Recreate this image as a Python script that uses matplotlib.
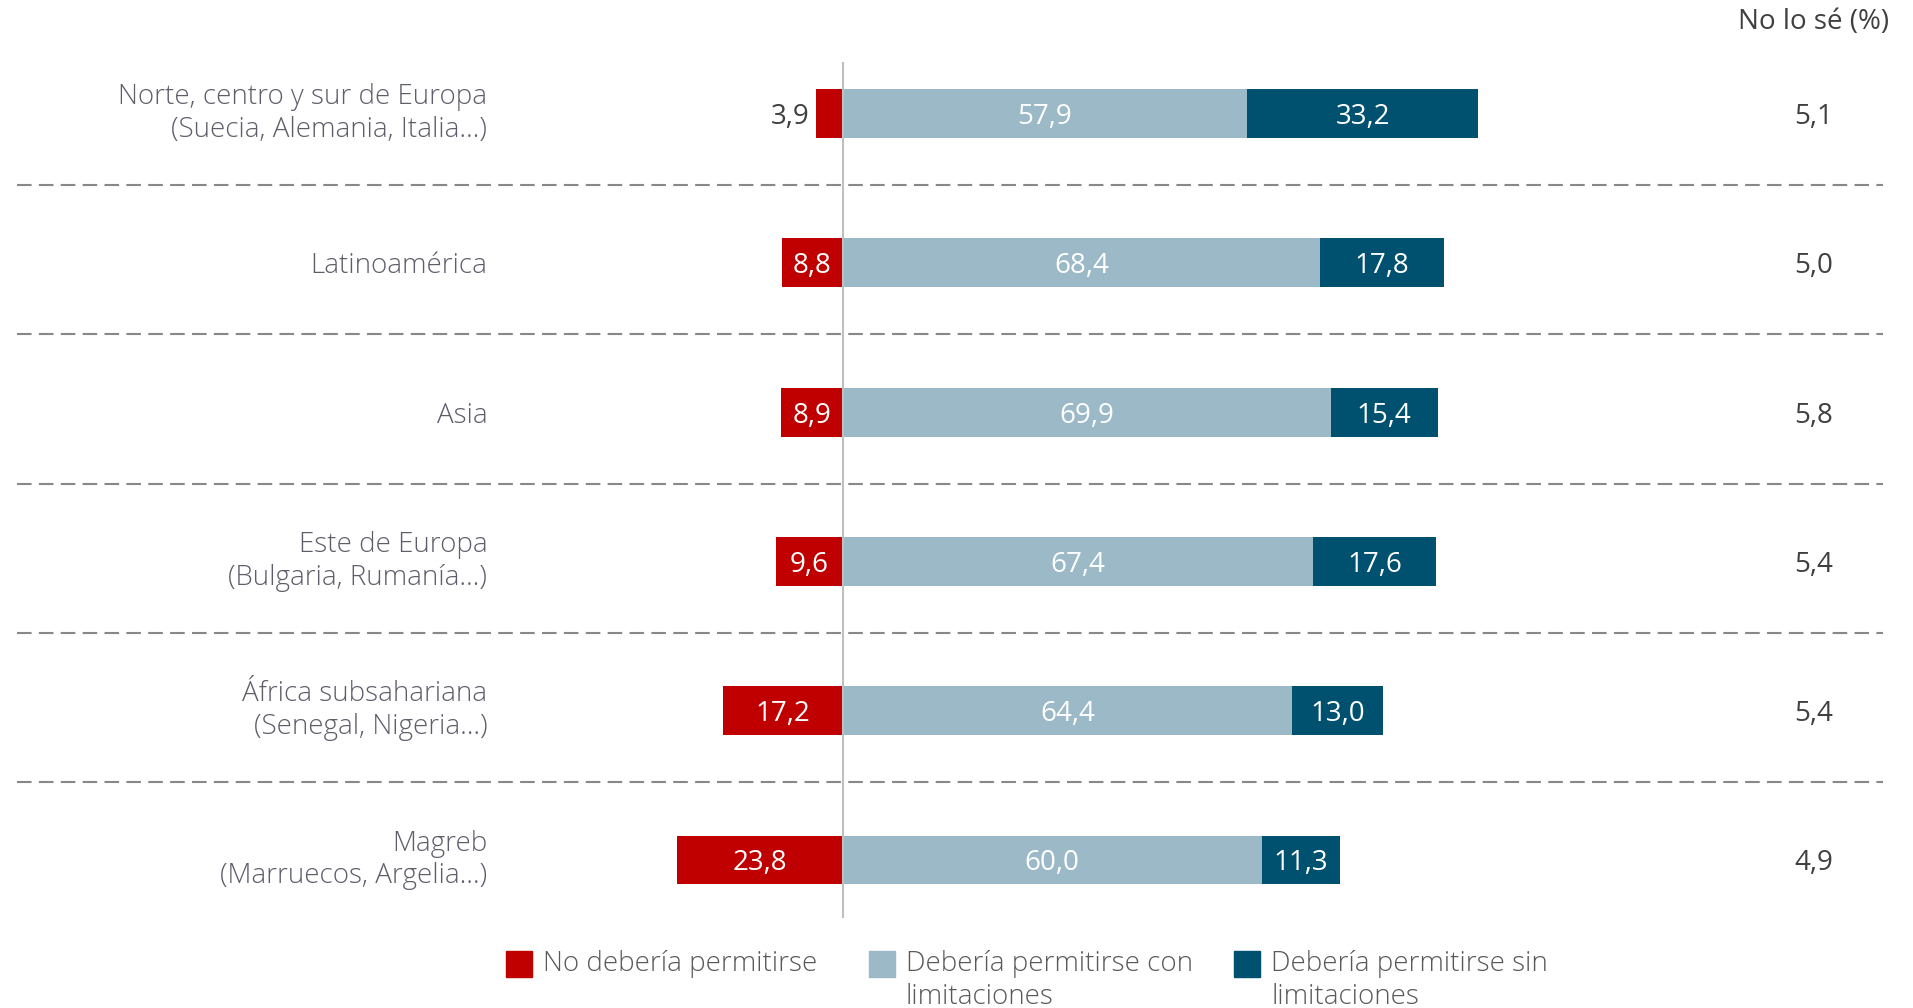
import matplotlib.pyplot as plt
from matplotlib.patches import Rectangle

# ---- data ----
categories = ["Norte, centro y sur de Europa\n(Suecia, Alemania, Italia…)",
              "Latinoamérica",
              "Asia",
              "Este de Europa\n(Bulgaria, Rumanía…)",
              "África subsahariana\n(Senegal, Nigeria…)",
              "Magreb\n(Marruecos, Argelia…)"]
no_permitir = [3.9, 8.8, 8.9, 9.6, 17.2, 23.8]
con_limit = [57.9, 68.4, 69.9, 67.4, 64.4, 60.0]
sin_limit = [33.2, 17.8, 15.4, 17.6, 13.0, 11.3]
no_lo_se = [5.1, 5.0, 5.8, 5.4, 5.4, 4.9]
series_names = ["No debería permitirse", "Debería permitirse con\nlimitaciones",
                "Debería permitirse sin\nlimitaciones"]

colors = ['#C00000', '#9BB9C7', '#00516F']
txtgray = '#5E5E6B'
FONT = 'Open Sans'
plt.rcParams['font.family'] = [FONT, 'DejaVu Sans']

def fmt(v):
    return ('%.1f' % v).replace('.', ',')

W, H = 1913, 1008
fig = plt.figure(figsize=(W/100, H/100), dpi=100)
ax = fig.add_axes([0, 0, 1, 1])
ax.axis('off')

# pixel geometry of reference: zero at x=843, 6.975 px per unit; rows every 149.3 px from 113.5
ppu = 6.975
ax.set_xlim(-843/ppu, (W-843)/ppu)
ax.set_ylim((H-113.5)/149.3, -113.5/149.3)

y = list(range(len(categories)))
bh = 0.327
ax.barh(y, [-v for v in no_permitir], height=bh, color=colors[0], zorder=2)
ax.barh(y, con_limit, height=bh, color=colors[1], zorder=2)
ax.barh(y, sin_limit, left=con_limit, height=bh, color=colors[2], zorder=2)

fs = 20
for i in y:
    v = no_permitir[i]
    if v < 5:
        ax.text(-v - 0.9, i, fmt(v), ha='right', va='center_baseline', fontsize=fs, color='#404040')
    else:
        ax.text(-v/2, i, fmt(v), ha='center', va='center_baseline', fontsize=fs, color='white', zorder=3)
    ax.text(con_limit[i]/2, i, fmt(con_limit[i]), ha='center', va='center_baseline', fontsize=fs, color='white', zorder=3)
    ax.text(con_limit[i] + sin_limit[i]/2, i, fmt(sin_limit[i]), ha='center', va='center_baseline', fontsize=fs, color='white', zorder=3)
    va = 'center' if '\n' in categories[i] else 'center_baseline'
    ax.text(-51.0, i, categories[i], ha='right', va=va, fontsize=fs, color=txtgray,
            linespacing=1.22, fontweight='light')
    ax.text(139.2, i, fmt(no_lo_se[i]), ha='center', va='center_baseline', fontsize=fs, color='#404040')

# separators
for i in y[:-1]:
    ax.plot([-118.4, 149.1], [i + 0.48, i + 0.48], color='#888888', lw=1.5,
            dashes=(7, 3.5), zorder=1)
# zero line
ax.plot([0, 0], [-0.338, 5.382], color='#BFBFBF', lw=1.5, zorder=4)

ax.text(150.0, -0.635, "No lo sé (%)", ha='right', va='center_baseline', fontsize=fs, color='#404040')

# legend (manual, handle aligned with first text line)
leg_x = [506, 869, 1234]
for k in range(3):
    fig.patches.append(Rectangle((leg_x[k]/W, 1 - 977/H), 26/W, 26/H,
                                 transform=fig.transFigure, color=colors[k]))
    fig.text((leg_x[k] + 37)/W, 1 - 950/H, series_names[k], ha='left', va='top',
             fontsize=fs, color='#595959', linespacing=1.22, fontweight='light')

fig.savefig('out.png', dpi=100)
